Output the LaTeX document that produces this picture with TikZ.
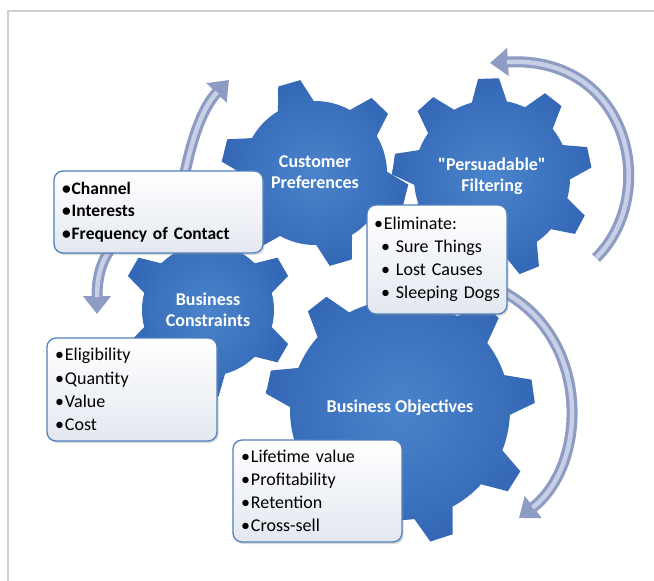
\documentclass[tikz,border=0pt]{standalone}
\usepackage{fontspec}
\setmainfont{Carlito}[Ligatures=TeXOff]
\usepackage{tikz}
\usetikzlibrary{arrows.meta}
\usetikzlibrary{shadows}
\hyphenpenalty=10000
\exhyphenpenalty=10000

\definecolor{gearblue}{HTML}{3468B6}
\definecolor{gearlight}{HTML}{4A84CC}
\definecolor{framegray}{HTML}{CFCFCF}
\definecolor{boxline}{HTML}{4F81BD}
\definecolor{boxgray}{HTML}{E3E8F0}
\definecolor{arrdark}{HTML}{8E9BC2}
\definecolor{arrlight}{HTML}{C8D0E5}

\tikzset{
 gear/.style={inner color=gearlight,outer color=gearblue},
 gearlabel/.style={text=white,align=center,font=\bfseries\fontsize{18}{21}\selectfont},
 infobox/.style={draw=boxline,line width=1.3pt,rounded corners=9pt,
   top color=white,bottom color=boxgray,
   drop shadow={shadow xshift=1.5pt,shadow yshift=-2pt,opacity=0.3},
   inner xsep=8pt,inner ysep=0pt,align=left,
   font=\fontsize{18}{23.2}\selectfont},
 cycarrow/.style={arrdark,line width=11pt},
 cycshine/.style={arrlight,line width=4.5pt}
}

\begin{document}
\begin{tikzpicture}[x=1pt,y=-1pt,>={Triangle[width=27pt,length=18pt]}]
 \fill[white] (0,0) rectangle (654,581);
 \useasboundingbox (0,0) rectangle (654,581);
 \draw[framegray,line width=1.2pt] (8,581)--(8,11)--(654,11);

 %%%%%%%%%%%%%%%%%%%%%%%%%%%%%%%%%%% gears
 \begin{scope}[shift={(400,410)}]
  \shade[gear] (-138.5:110) \foreach \a in {-128,-88,...,192}
   {--(\a-10.5:110)--(\a-5:135)--(\a+5:135)--(\a+10.5:110) arc[start angle=\a+10.5,end angle=\a+29.5,radius=110]}--cycle;
 \end{scope}
 \begin{scope}[shift={(208,310)}]
  \shade[gear] (-165:66) \foreach \a in {-150,-90,...,150}
   {--(\a-15:66)--(\a-7:87)--(\a+7:87)--(\a+15:66) arc[start angle=\a+15,end angle=\a+45,radius=66]}--cycle;
 \end{scope}
 \begin{scope}[shift={(315,173)}]
  \shade[gear] (-121:72) \foreach \a in {-106,-46,...,194}
   {--(\a-15:72)--(\a-7:94)--(\a+7:94)--(\a+15:72) arc[start angle=\a+15,end angle=\a+45,radius=72]}--cycle;
 \end{scope}
 \begin{scope}[shift={(492,178)}]
  \shade[gear] (-105:78) \foreach \a in {-92,-52,...,228}
   {--(\a-13:78)--(\a-6:100)--(\a+6:100)--(\a+13:78) arc[start angle=\a+13,end angle=\a+27,radius=78]}--cycle;
 \end{scope}

 %%%%%%%%%%%%%%%%%%%%%%%%%%%%%%%%%%% arrows
 \coordinate (lt) at (229,80);
 \coordinate (lm) at (180,200);
 \coordinate (lb) at (97,314);
 \draw[cycarrow,<->] (lt) .. controls (200,110) and (188,150) .. (lm) .. controls (120,230) and (97,250) .. (lb);
 \draw[cycshine,shorten <=17pt,shorten >=17pt] (lt) .. controls (200,110) and (188,150) .. (lm) .. controls (120,230) and (97,250) .. (lb);

 \coordinate (te) at (596,258);
 \coordinate (th) at (490,63);
 \draw[cycarrow,->] (te) .. controls (660,195) and (630,55) .. (th);
 \draw[cycshine,shorten >=17pt] (te) .. controls (660,195) and (630,55) .. (th);

 \coordinate (rs) at (480,282);
 \coordinate (rh) at (519,518);
 \draw[cycarrow,->] (rs) .. controls (592,318) and (592,462) .. (rh);
 \draw[cycshine,shorten >=17pt] (rs) .. controls (592,318) and (592,462) .. (rh);

 %%%%%%%%%%%%%%%%%%%%%%%%%%%%%%%%%%% labels
 \node[gearlabel] (cust) at (315,172) {Customer\\Preferences};
 \node[gearlabel] (pers) at (492,176) {"Persuadable"\\Filtering};
 \node[gearlabel] (bcon) at (208,310) {Business\\Constraints};
 \node[gearlabel] (bobj) at (400,408) {Business Objectives};

 %%%%%%%%%%%%%%%%%%%%%%%%%%%%%%%%%%% boxes
 \node[infobox,font=\bfseries\fontsize{17.5}{22.6}\selectfont,text width=193pt,minimum height=82pt] (chanbox) at (158.5,212)
  {\textbullet\hspace{1pt}Channel\\\textbullet\hspace{1pt}Interests\\\textbullet\hspace{1pt}Frequency~of~Contact};
 \node[infobox,inner xsep=7pt,text width=126pt,minimum height=109pt] (elimbox) at (437,259.5)
  {\begin{tabular}{@{}l@{}}
   \textbullet\hspace{1pt}Eliminate:\\
   \hspace*{7pt}\textbullet~Sure~Things\\
   \hspace*{7pt}\textbullet~Lost~Causes\\
   \hspace*{7pt}\textbullet~Sleeping~Dogs
  \end{tabular}};
 \node[infobox,text width=154pt,minimum height=103pt] (eligbox) at (132,389.5)
  {\textbullet\hspace{1pt}Eligibility\\\textbullet\hspace{1pt}Quantity\\\textbullet\hspace{1pt}Value\\\textbullet\hspace{1pt}Cost};
 \node[infobox,text width=153pt,minimum height=102pt] (lifebox) at (317.5,491)
  {\textbullet\hspace{1pt}Lifetime~value\\\textbullet\hspace{1pt}Profitability\\\textbullet\hspace{1pt}Retention\\\textbullet\hspace{1pt}Cross-sell};
\end{tikzpicture}
\end{document}
